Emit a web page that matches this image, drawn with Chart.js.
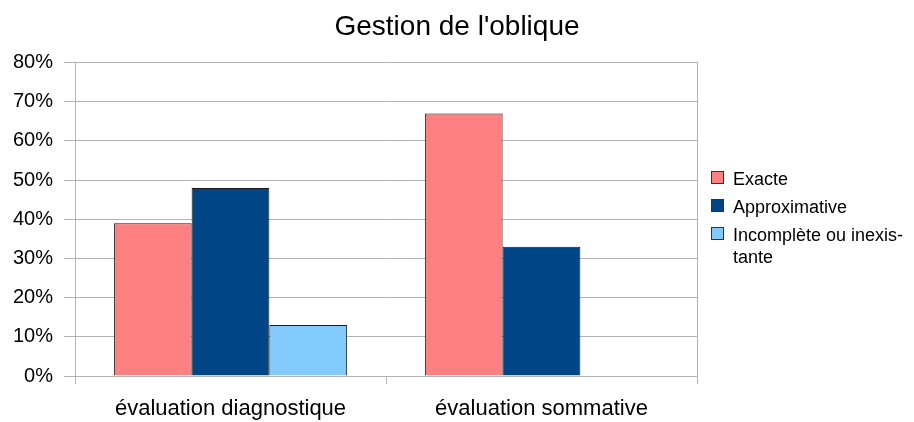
<!DOCTYPE html>
<html>
<head>
<meta charset="utf-8">
<script src="https://cdn.jsdelivr.net/npm/chart.js@4"></script>
<style>
  body { margin: 0; background: #fff; }
  #wrap { position: relative; width: 914px; height: 422px; }
  #legend { position: absolute; left: 711px; top: 168px; font-family: "Liberation Sans", Arial, sans-serif; font-size: 18px; color: #000; }
  #legend .item { position: relative; padding-left: 22px; line-height: 22px; margin-bottom: 6px; width: 185px; }
  #legend .box { position: absolute; left: 0; top: 3px; width: 11px; height: 11px; border: 1px solid #333; }
</style>
</head>
<body>
<div id="wrap">
  <canvas id="chart" width="914" height="422"></canvas>
  <div id="legend"></div>
</div>
<script>
const categories = ['évaluation diagnostique', 'évaluation sommative'];
const seriesNames = ['Exacte', 'Approximative', 'Incomplète ou inexis-\ntante'];
const exacte = [0.39, 0.67];
const approximative = [0.48, 0.33];
const incomplete = [0.13, null];
const yTicks = [0, 0.1, 0.2, 0.3, 0.4, 0.5, 0.6, 0.7, 0.8];

const colors = ['#ff8080', '#004586', '#83caff'];
const gridColor = '#b3b3b3';
const font = 'Liberation Sans';

const values = [exacte, approximative, incomplete];

const datasets = seriesNames.map((name, i) => ({
  label: name,
  data: values[i],
  backgroundColor: colors[i],
  borderColor: '#1a1a1a',
  borderWidth: 1,
  categoryPercentage: 0.75,
  barPercentage: 1,
}));

// legend built by hand so the long label can wrap
const legend = document.getElementById('legend');
seriesNames.forEach((name, i) => {
  const item = document.createElement('div');
  item.className = 'item';
  const box = document.createElement('span');
  box.className = 'box';
  box.style.background = colors[i];
  item.appendChild(box);
  name.split('\n').forEach((line, j) => {
    if (j > 0) item.appendChild(document.createElement('br'));
    item.appendChild(document.createTextNode(line));
  });
  legend.appendChild(item);
});

new Chart(document.getElementById('chart'), {
  type: 'bar',
  data: { labels: categories, datasets: datasets },
  options: {
    responsive: false,
    animation: false,
    layout: { padding: { top: 10, bottom: 0, left: 0, right: 0 } },
    plugins: {
      legend: { display: false },
      tooltip: { enabled: false },
      title: {
        display: true,
        text: "Gestion de l'oblique",
        color: '#000',
        font: { family: font, size: 28, weight: 'normal' },
        padding: { top: 0, bottom: 19 },
      },
    },
    scales: {
      x: {
        afterFit: (scale) => { scale.height = 46; },
        grid: {
          offset: true,
          drawOnChartArea: false,
          drawTicks: true,
          tickLength: 8,
          color: gridColor,
        },
        border: { color: gridColor },
        ticks: {
          color: '#000',
          padding: 12,
          maxRotation: 0,
          font: { family: font, size: 22 },
        },
      },
      y: {
        min: 0,
        max: 0.8,
        afterFit: (scale) => { scale.width = 75; },
        afterBuildTicks: (scale) => { scale.ticks = yTicks.map(v => ({ value: v })); },
        grid: { color: gridColor, tickLength: 11 },
        border: { color: gridColor },
        ticks: {
          color: '#000',
          padding: 11,
          font: { family: font, size: 20 },
          callback: (v) => Math.round(v * 100) + '%',
        },
      },
      yRight: {
        position: 'right',
        min: 0,
        max: 0.8,
        afterFit: (scale) => { scale.width = 217; },
        grid: { drawOnChartArea: false, drawTicks: false },
        border: { color: gridColor },
        ticks: { display: false },
      },
    },
  },
});
</script>
</body>
</html>
